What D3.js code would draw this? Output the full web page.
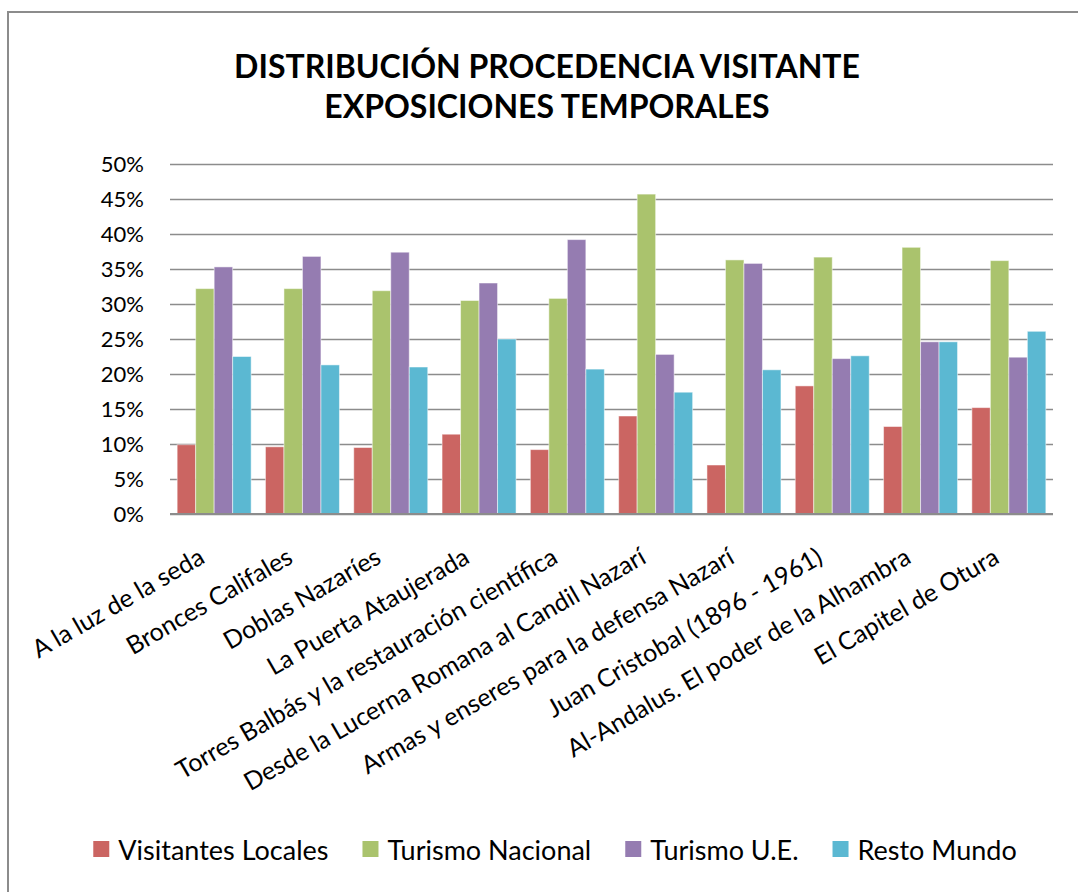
<!DOCTYPE html>
<html>
<head>
<meta charset="utf-8">
<script src="https://cdn.jsdelivr.net/npm/d3@7"></script>
<style>
  body { margin: 0; background: #fff; }
  text { font-family: Lato, "Open Sans", sans-serif; fill: #000; }
</style>
</head>
<body>
<div id="chart"></div>
<script>
// chart data
const categories = [
  "A la luz de la seda",
  "Bronces Califales",
  "Doblas Nazaríes",
  "La Puerta Ataujerada",
  "Torres Balbás y la restauración científica",
  "Desde la Lucerna Romana al Candil Nazarí",
  "Armas y enseres para la defensa Nazarí",
  "Juan Cristobal (1896 - 1961)",
  "Al-Andalus. El poder de la Alhambra",
  "El Capitel de Otura"
];
const seriesNames = ["Visitantes Locales", "Turismo Nacional", "Turismo U.E.", "Resto Mundo"];
const locales  = [9.9, 9.6, 9.5, 11.4, 9.2, 14.0, 7.0, 18.3, 12.5, 15.2];
const nacional = [32.2, 32.2, 31.9, 30.5, 30.8, 45.7, 36.3, 36.7, 38.1, 36.2];
const ue       = [35.3, 36.8, 37.4, 33.0, 39.2, 22.8, 35.8, 22.2, 24.6, 22.4];
const resto    = [22.5, 21.3, 21.0, 25.0, 20.7, 17.4, 20.6, 22.6, 24.6, 26.1];
const yTicks = [0, 5, 10, 15, 20, 25, 30, 35, 40, 45, 50];

const seriesValues = [locales, nacional, ue, resto];
const colors = ["#CB6562", "#AAC36D", "#957CB1", "#5BB8D2"];

const width = 1078, height = 892;
const margin = {top: 164, left: 170, right: 25, bottom: 378};

const svg = d3.select("#chart").append("svg")
    .attr("width", width)
    .attr("height", height);

// outer chart border
svg.append("rect")
    .attr("x", 8).attr("y", 12)
    .attr("width", width + 20).attr("height", height + 20)
    .attr("fill", "none")
    .attr("stroke", "#8c8c8c")
    .attr("stroke-width", 2);

// title
const title = svg.append("text")
    .attr("text-anchor", "middle")
    .style("font-weight", "bold")
    .style("font-size", "32px");
title.append("tspan").attr("x", 547).attr("y", 78).text("DISTRIBUCIÓN PROCEDENCIA VISITANTE");
title.append("tspan").attr("x", 547).attr("y", 118).text("EXPOSICIONES TEMPORALES");

const x0 = d3.scaleBand()
    .domain(categories)
    .range([margin.left, width - margin.right])
    .paddingInner(0.162)
    .paddingOuter(0.081);

const x1 = d3.scaleBand()
    .domain(d3.range(seriesNames.length))
    .range([0, x0.bandwidth()]);

const y = d3.scaleLinear()
    .domain([0, 50])
    .range([height - margin.bottom, margin.top]);

// gridlines + y labels
const yAxis = d3.axisLeft(y)
    .tickValues(yTicks)
    .tickFormat(d => d + "%")
    .tickSize(-(width - margin.left - margin.right))
    .tickPadding(26);

const gy = svg.append("g")
    .attr("transform", `translate(${margin.left},0)`)
    .call(yAxis);
gy.select(".domain").remove();
gy.selectAll(".tick line")
    .attr("stroke", "#8c8c8c")
    .attr("stroke-width", 1.5);
gy.selectAll(".tick text")
    .style("font-size", "22px")
    .attr("fill", "#000");

// bars
const groups = svg.append("g")
    .selectAll("g")
    .data(categories)
    .join("g")
    .attr("transform", d => `translate(${x0(d)},0)`);

groups.selectAll("rect")
    .data((d, i) => seriesValues.map((vals, s) => ({s: s, v: vals[i]})))
    .join("rect")
    .attr("x", d => x1(d.s))
    .attr("y", d => y(d.v))
    .attr("width", x1.bandwidth())
    .attr("height", d => y(0) - y(d.v))
    .attr("fill", d => colors[d.s])
    .attr("stroke", "#fff")
    .attr("stroke-opacity", 0.5)
    .attr("stroke-width", 1);

// bottom axis line
svg.append("line")
    .attr("x1", margin.left).attr("x2", width - margin.right)
    .attr("y1", y(0)).attr("y2", y(0))
    .attr("stroke", "#8c8c8c")
    .attr("stroke-width", 2);

// category labels, rotated
svg.append("g")
    .selectAll("text")
    .data(categories)
    .join("text")
    .attr("text-anchor", "end")
    .attr("transform", d => `translate(${x0(d) + x0.bandwidth() / 2 - 8},${y(0) + 48}) rotate(-30)`)
    .style("font-size", "25px")
    .text(d => d);

// legend
const legend = svg.append("g");
const items = legend.selectAll("g")
    .data(seriesNames)
    .join("g");
items.append("rect")
    .attr("width", 16).attr("height", 16)
    .attr("y", -16)
    .attr("fill", (d, i) => colors[i]);
items.append("text")
    .attr("x", 25)
    .attr("y", 3)
    .style("font-size", "27px")
    .text(d => d);

let lx = 0;
items.each(function() {
    d3.select(this).attr("transform", `translate(${lx},0)`);
    lx += this.getBBox().width + 34;
});
lx -= 34;
legend.attr("transform", `translate(${555 - lx / 2},857)`);
</script>
</body>
</html>
